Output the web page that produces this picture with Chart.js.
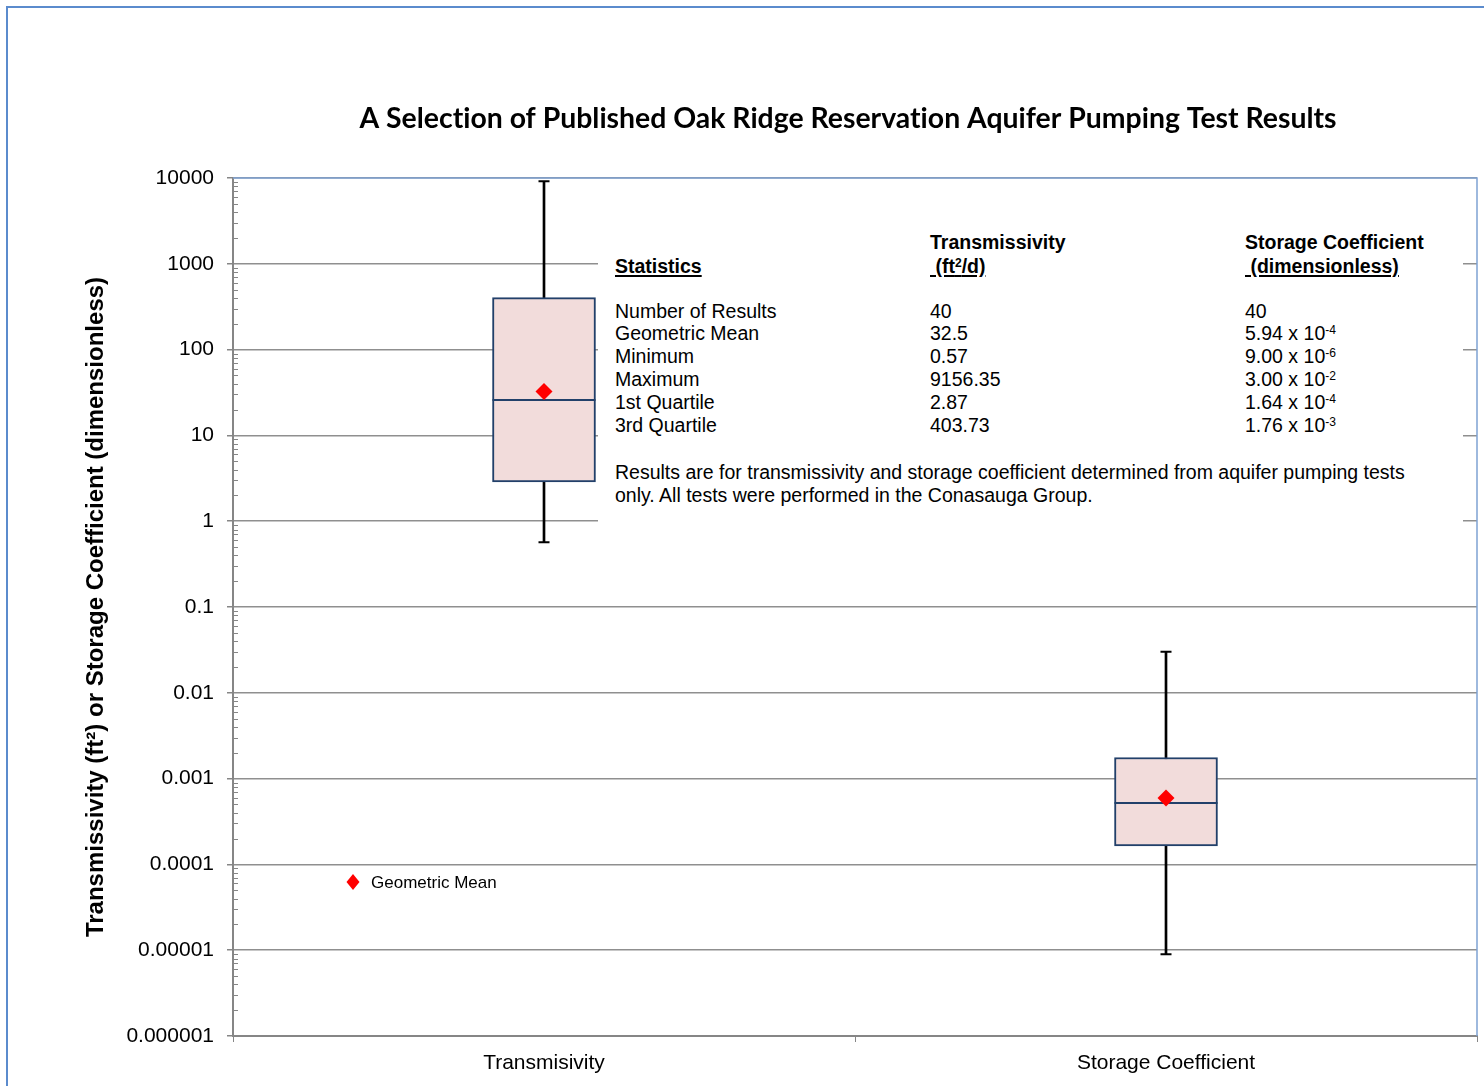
<!DOCTYPE html>
<html>
<head>
<meta charset="utf-8">
<script src="https://cdn.jsdelivr.net/npm/chart.js@4"></script>
<style>
  body { margin: 0; background: #fff; }
  #wrap { position: relative; width: 1484px; height: 1086px; overflow: hidden; }
  #frame { position: absolute; left: 6px; top: 6px; width: 1520px; height: 1120px; border: 2px solid #5b8bcd; box-sizing: border-box; }
  #boxChart { position: absolute; left: 0; top: 0; }
  #stats { position: absolute; left: 598px; top: 205px; width: 865px; height: 330px; background: #fff;
           font-family: "Liberation Sans", Arial, sans-serif; font-size: 19.5px; color: #000; }
  #stats .col { position: absolute; white-space: pre; line-height: 22.8px; }
  #stats .head { position: absolute; white-space: pre; line-height: 24px; font-weight: bold; }
  #stats u { text-decoration-thickness: 2px; text-underline-offset: 2px; }
  #stats sup { font-size: 0.62em; vertical-align: 0.5em; line-height: 0; }
</style>
</head>
<body>
<div id="wrap">
  <div id="frame"></div>
  <canvas id="boxChart" width="1484" height="1086"></canvas>
  <div id="stats"></div>
</div>
<script>
// Data
const categories = ['Transmisivity', 'Storage Coefficient'];
const minVals = [0.57, 9.00e-6];
const q1Vals = [2.87, 1.64e-4];
const medianVals = [25.9, 5.2e-4];
const q3Vals = [403.73, 1.76e-3];
const maxVals = [9156.35, 3.00e-2];
const meanVals = [32.5, 5.94e-4];

const yTicks = [0.000001, 0.00001, 0.0001, 0.001, 0.01, 0.1, 1, 10, 100, 1000, 10000];
const yTickLabels = ['0.000001', '0.00001', '0.0001', '0.001', '0.01', '0.1', '1', '10', '100', '1000', '10000'];

// Stats table text
const statNames = ['Number of Results', 'Geometric Mean', 'Minimum', 'Maximum', '1st Quartile', '3rd Quartile'];
const transStats = ['40', '32.5', '0.57', '9156.35', '2.87', '403.73'];
const storageMantissa = ['40', '5.94', '9.00', '3.00', '1.64', '1.76'];
const storageExp = [null, '-4', '-6', '-2', '-4', '-3'];
const noteLines = [
    'Results are for transmissivity and storage coefficient determined from aquifer pumping tests',
    'only. All tests were performed in the Conasauga Group.'
];

const stats = document.getElementById('stats');
stats.innerHTML =
    `<div class="head" style="left:17px;top:25px">\n<u>Statistics</u></div>` +
    `<div class="head" style="left:332px;top:25px">Transmissivity\n<u> (ft<sup>2</sup>/d)</u></div>` +
    `<div class="head" style="left:647px;top:25px">Storage Coefficient\n<u> (dimensionless)</u></div>` +
    `<div class="col" style="left:17px;top:94.6px">${statNames.join('\n')}</div>` +
    `<div class="col" style="left:332px;top:94.6px">${transStats.join('\n')}</div>` +
    `<div class="col" style="left:647px;top:94.6px">${storageMantissa.map((m, i) =>
        storageExp[i] ? `${m} x 10<sup>${storageExp[i]}</sup>` : m).join('\n')}</div>` +
    `<div class="col" style="left:17px;top:255.5px;line-height:23px">${noteLines.join('\n')}</div>`;

const gridColor = '#8f8f8f';
const axisColor = '#868686';

// keep the plot area fixed: no extra label overflow padding
function noPadding(scale) {
    scale.paddingLeft = 0;
    scale.paddingRight = 0;
    scale.paddingTop = 0;
    scale.paddingBottom = 0;
}

// plot frame, minor ticks, title, legend
const extrasPlugin = {
    id: 'extras',
    beforeDatasetsDraw(chart) {
        const { ctx, chartArea: a } = chart;
        const y = chart.scales.y;
        ctx.save();
        ctx.strokeStyle = '#7fa2d4';
        ctx.lineWidth = 1.5;
        ctx.beginPath();
        ctx.moveTo(a.left, a.top);
        ctx.lineTo(a.right, a.top);
        ctx.lineTo(a.right, a.bottom);
        ctx.stroke();
        // minor ticks inside the axis
        ctx.strokeStyle = axisColor;
        ctx.lineWidth = 1;
        for (let d = -6; d < 4; d++) {
            for (let k = 2; k < 10; k++) {
                const py = Math.round(y.getPixelForValue(k * Math.pow(10, d))) + 0.5;
                ctx.beginPath();
                ctx.moveTo(a.left, py);
                ctx.lineTo(a.left + 5, py);
                ctx.stroke();
            }
        }
        ctx.restore();
    },
    afterDraw(chart) {
        const { ctx, chartArea: a } = chart;
        ctx.save();
        ctx.fillStyle = '#000';
        ctx.font = 'bold 28.4px Lato';
        ctx.textRendering = 'optimizeSpeed';
        ctx.textAlign = 'center';
        ctx.textBaseline = 'middle';
        ctx.fillText('A Selection of Published Oak Ridge Reservation Aquifer Pumping Test Results',
            (a.left + a.right) / 2 - 7, 119);
        ctx.textRendering = 'auto';

        // legend
        const lx = a.left + 120, ly = a.bottom - 154;
        ctx.fillStyle = '#ff0000';
        ctx.beginPath();
        ctx.moveTo(lx, ly - 8);
        ctx.lineTo(lx + 6.5, ly);
        ctx.lineTo(lx, ly + 8);
        ctx.lineTo(lx - 6.5, ly);
        ctx.closePath();
        ctx.fill();
        ctx.fillStyle = '#000';
        ctx.font = '17px "Liberation Sans"';
        ctx.textAlign = 'left';
        ctx.fillText('Geometric Mean', lx + 18, ly + 1);
        ctx.restore();
    }
};

const config = {
    type: 'bar',
    data: {
        labels: categories,
        datasets: [
            {
                type: 'line',
                label: 'Geometric Mean',
                data: meanVals,
                showLine: false,
                pointStyle: 'rectRot',
                pointRadius: 8.5,
                pointBackgroundColor: '#ff0000',
                pointBorderColor: '#ff0000',
                pointBorderWidth: 0,
                order: 0
            },
            {
                type: 'line',
                label: 'Median',
                data: medianVals,
                showLine: false,
                pointStyle: 'line',
                pointRadius: 51.5,
                pointBorderColor: '#22406a',
                pointBorderWidth: 2,
                order: 1
            },
            {
                type: 'line',
                label: 'Max',
                data: maxVals,
                showLine: false,
                pointStyle: 'line',
                pointRadius: 5.5,
                pointBorderColor: '#000',
                pointBorderWidth: 2,
                order: 1
            },
            {
                type: 'line',
                label: 'Min',
                data: minVals,
                showLine: false,
                pointStyle: 'line',
                pointRadius: 5.5,
                pointBorderColor: '#000',
                pointBorderWidth: 2,
                order: 1
            },
            {
                label: 'Interquartile',
                data: q1Vals.map((q, i) => [q, q3Vals[i]]),
                backgroundColor: '#f2dcdb',
                borderColor: '#22406a',
                borderWidth: 2,
                borderSkipped: false,
                barThickness: 103,
                grouped: false,
                order: 2
            },
            {
                label: 'Range',
                data: minVals.map((v, i) => [v, maxVals[i]]),
                backgroundColor: '#000',
                barThickness: 2,
                grouped: false,
                order: 3
            }
        ]
    },
    options: {
        responsive: false,
        animation: false,
        layout: { autoPadding: false, padding: { left: 0, top: 178, right: 7, bottom: 0 } },
        plugins: {
            legend: { display: false },
            tooltip: { enabled: false },
            title: { display: false }
        },
        scales: {
            x: {
                offset: true,
                afterFit(scale) { scale.height = 50; noPadding(scale); },
                grid: {
                    offset: true,
                    drawOnChartArea: false,
                    tickLength: 6,
                    color: axisColor
                },
                border: { color: axisColor, width: 2 },
                ticks: {
                    color: '#000',
                    padding: 9,
                    font: { family: 'Liberation Sans', size: 21 }
                }
            },
            y: {
                type: 'logarithmic',
                min: 0.000001,
                max: 10000,
                afterFit(scale) { scale.width = 233; noPadding(scale); },
                afterBuildTicks(scale) {
                    scale.ticks = yTicks.map(v => ({ value: v }));
                },
                grid: {
                    color: gridColor,
                    lineWidth: 1.5,
                    tickLength: 6,
                    tickColor: axisColor
                },
                border: { color: axisColor, width: 2 },
                ticks: {
                    autoSkip: false,
                    color: '#000',
                    padding: 13,
                    font: { family: 'Liberation Sans', size: 21 },
                    callback: (value, idx) => yTickLabels[idx]
                },
                title: {
                    display: true,
                    text: 'Transmissivity (ft\u00B2) or Storage Coefficient (dimensionless)',
                    color: '#000',
                    padding: { top: 82, bottom: 0 },
                    font: { family: 'Liberation Sans', size: 24, weight: 'bold' }
                }
            }
        }
    },
    plugins: [extrasPlugin]
};

const boxChart = new Chart(document.getElementById('boxChart'), config);
</script>
</body>
</html>
